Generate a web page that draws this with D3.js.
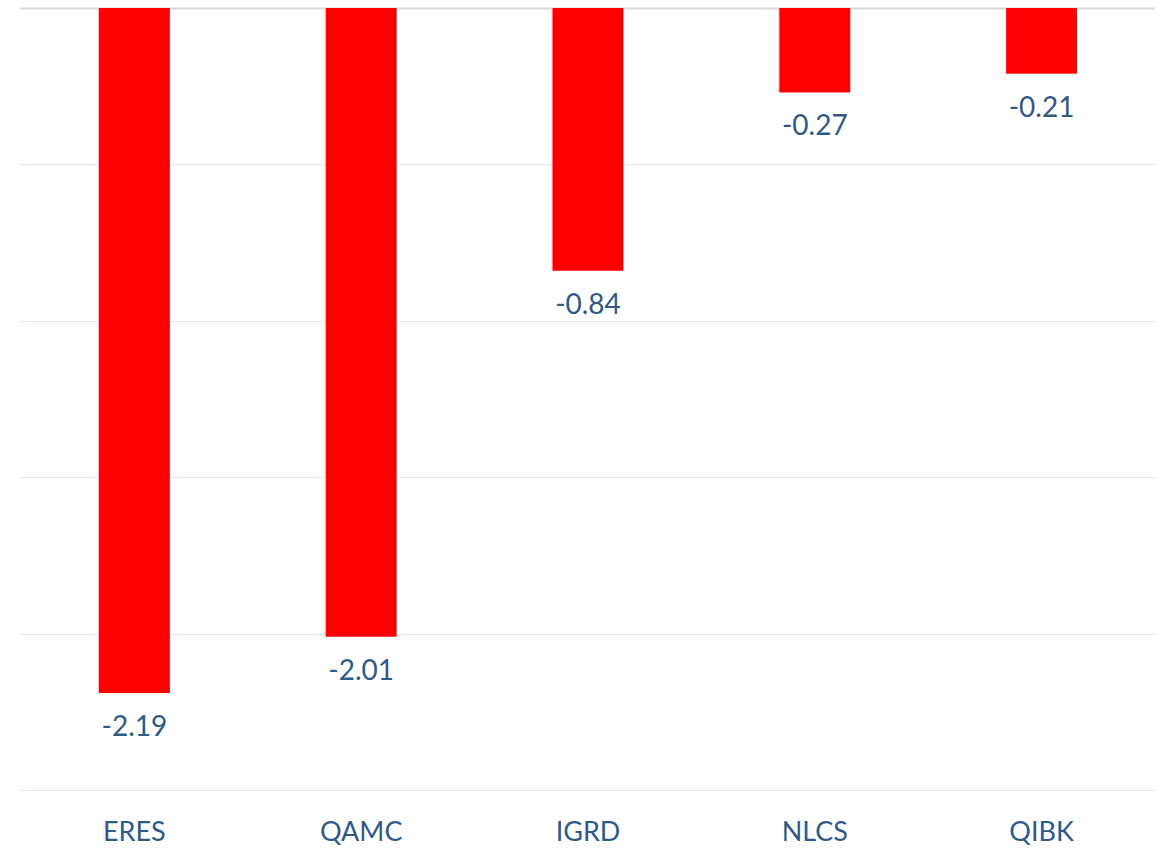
<!DOCTYPE html>
<html><head><meta charset="utf-8">
<script src="https://cdn.jsdelivr.net/npm/d3@7/dist/d3.min.js"></script>
<style>body{margin:0;background:#fff;} text{font-family:Lato, "Open Sans", sans-serif;}</style>
</head><body>
<svg id="chart" width="1173" height="848"></svg>
<script>
const categories = ["ERES", "QAMC", "IGRD", "NLCS", "QIBK"];
const values = [-2.19, -2.01, -0.84, -0.27, -0.21];
const yTicks = [0, -0.5, -1, -1.5, -2, -2.5];

const svg = d3.select("#chart");
const plotLeft = 21, plotRight = 1155, plotTop = 8, plotBottom = 790;
const x = d3.scaleBand().domain(categories).range([plotLeft, plotRight]).paddingInner(0.687).paddingOuter(0.3435);
const y = d3.scaleLinear().domain([0, -2.5]).range([plotTop, plotBottom]);
const textColor = "#2f5a86";

svg.append("g").selectAll("line").data(yTicks).join("line")
  .attr("x1", 20).attr("x2", plotRight)
  .attr("y1", d => Math.round(y(d)) + 0.5).attr("y2", d => Math.round(y(d)) + 0.5)
  .attr("stroke", d => d === 0 ? "#d9d9d9" : "#dce8f6").attr("stroke-width", d => d === 0 ? 2 : 1);

svg.append("g").selectAll("rect").data(values).join("rect")
  .attr("x", (d, i) => x(categories[i]))
  .attr("width", x.bandwidth())
  .attr("y", y(0))
  .attr("height", d => y(d) - y(0))
  .attr("fill", "#ff0000");

svg.append("g").selectAll("text").data(values).join("text")
  .attr("x", (d, i) => x(categories[i]) + x.bandwidth() / 2)
  .attr("y", d => y(d) + 43)
  .attr("text-anchor", "middle")
  .attr("font-size", 28)
  .attr("fill", textColor)
  .text(d => d.toFixed(2));

svg.append("g").selectAll("text").data(categories).join("text")
  .attr("x", d => x(d) + x.bandwidth() / 2)
  .attr("y", 841)
  .attr("text-anchor", "middle")
  .attr("font-size", 27)
  .attr("fill", textColor)
  .text(d => d);
</script>
</body></html>
